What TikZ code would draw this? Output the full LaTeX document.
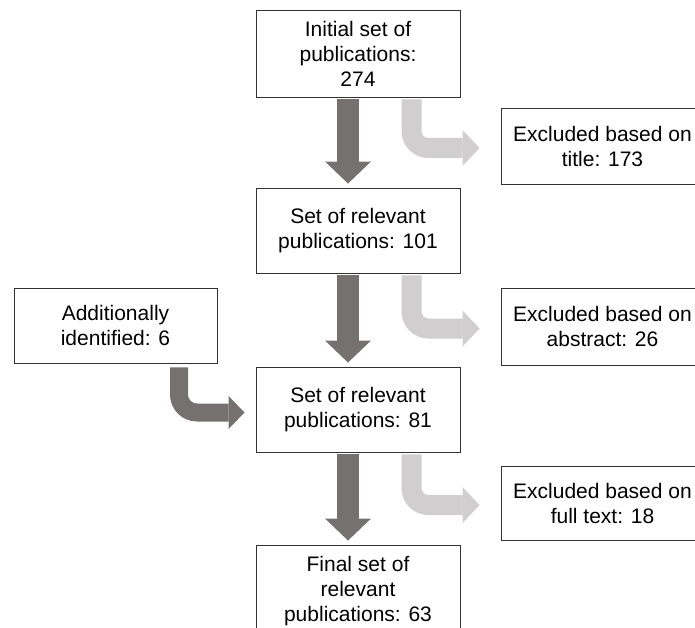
\documentclass[tikz,border=0pt]{standalone}
\usepackage{fontspec}
\setmainfont{Liberation Sans}
\usetikzlibrary{arrows.meta}
\definecolor{darkarrow}{HTML}{767171}
\definecolor{lightarrow}{HTML}{D0CECE}

\begin{document}
\begin{tikzpicture}[x=1pt,y=1pt,
  box/.style={draw=black!80,line width=0.9pt,align=center,inner sep=0pt,
    minimum width=204pt,font=\fontsize{21}{25}\selectfont},
  mainarrow/.style={darkarrow,line width=22pt,
    -{Triangle[width=46pt,length=22pt,line width=0pt]},shorten <=2pt,shorten >=4pt},
  addarrow/.style={darkarrow,line width=18pt,rounded corners=18pt,
    -{Triangle[width=33pt,length=16pt,line width=0pt]},shorten <=4pt,shorten >=11pt},
  exarrow/.style={lightarrow,line width=20pt,rounded corners=17pt,
    -{Triangle[width=36pt,length=17pt,line width=0pt]},shorten <=2pt,shorten >=21pt}]
\useasboundingbox (0,0) rectangle (695,-628);
\clip (0,0) rectangle (695,-628);

\node[box,minimum height=87pt] (init) at (358,-53.5) {Initial set of\\publications:\\274};
\node[box,minimum height=85pt] (rel1) at (358,-230.5) {Set of relevant\\publications: 101};
\node[box,minimum height=85pt] (rel2) at (358,-409.5) {Set of relevant\\publications: 81};
\node[box,minimum height=92pt] (final) at (358,-591) {Final set of\\relevant\\publications: 63};

\node[box,minimum width=203pt,minimum height=76pt] (ex1) at (602.5,-146) {Excluded based on\\title: 173};
\node[box,minimum width=203pt,minimum height=77pt] (ex2) at (602.5,-326.5) {Excluded based on\\abstract: 26};
\node[box,minimum width=203pt,minimum height=74pt] (ex3) at (602.5,-503) {Excluded based on\\full text: 18};
\node[box,minimum width=203pt,minimum height=75pt] (add) at (115.5,-325.5) {Additionally\\identified: 6};

% main flow
\draw[mainarrow] ([xshift=-10pt]init.south) -- ([xshift=-10pt]rel1.north);
\draw[mainarrow] ([xshift=-10pt]rel1.south) -- ([xshift=-10pt]rel2.north);
\draw[mainarrow] ([xshift=-10pt]rel2.south) -- ([xshift=-10pt]final.north);

% exclusions
\draw[exarrow] ([xshift=53.5pt]init.south) |- ([yshift=-2pt]ex1.west);
\draw[exarrow] ([xshift=53.5pt]rel1.south) |- ([yshift=-2pt]ex2.west);
\draw[exarrow] ([xshift=53.5pt]rel2.south) |- ([yshift=-2pt]ex3.west);

\draw[addarrow] ([xshift=63.5pt]add.south) |- ([yshift=-3pt]rel2.west);

\end{tikzpicture}
\end{document}
